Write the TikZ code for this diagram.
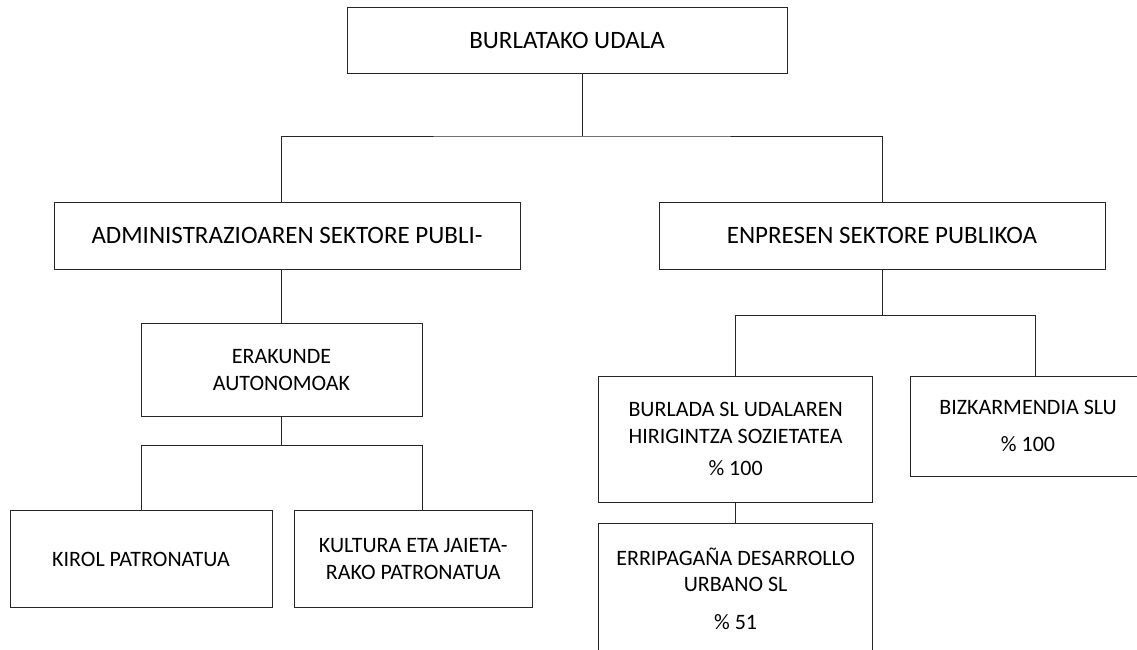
\documentclass[tikz,border=0pt]{standalone}
\usepackage{fontspec}
\setmainfont{Carlito}
\tikzset{
  boite/.style={draw=black!85, line width=1pt, inner sep=0pt, align=center},
  grand/.style={font=\fontsize{25}{30}\selectfont},
  petit/.style={font=\fontsize{22}{26.5}\selectfont},
  lien/.style={draw=black!85, line width=1pt}
}
\begin{document}
\begin{tikzpicture}[x=1pt,y=-1pt]
    \useasboundingbox (0,0) rectangle (1137,649);
    \clip (0,0) rectangle (1137,649);
    % boites
    \node[boite,grand,minimum width=440,minimum height=66] (udala) at (567,40) {BURLATAKO UDALA};
    \node[boite,grand,minimum width=466,minimum height=67] (admin) at (287,235.5) {ADMINISTRAZIOAREN SEKTORE PUBLI-};
    \node[boite,grand,minimum width=446,minimum height=67] (enpresen) at (882,235.5) {ENPRESEN SEKTORE PUBLIKOA};
    \node[boite,petit,minimum width=281,minimum height=93] (erakunde) at (281.5,370) {ERAKUNDE\\AUTONOMOAK};
    \node[boite,petit,minimum width=262,minimum height=97] (kirol) at (141,559) {KIROL PATRONATUA};
    \node[boite,petit,minimum width=238,minimum height=97] (kultura) at (413.3,559) {KULTURA ETA JAIETA-\\RAKO PATRONATUA};
    \node[boite,petit,minimum width=274,minimum height=126] (burlada) at (735.6,439) {BURLADA SL UDALAREN\\HIRIGINTZA SOZIETATEA\\[6pt]\% 100};
    \node[boite,petit,minimum width=235,minimum height=100] (bizkar) at (1028,426) {BIZKARMENDIA SLU\\[11pt]\% 100};
    \node[boite,petit,minimum width=274,minimum height=131] (erripa) at (735.6,588.5) {ERRIPAGAÑA DESARROLLO\\URBANO SL\\[11pt]\% 51};
    % liens
    \coordinate (bus1) at (582,136);
    \coordinate (bus2r) at (422,445);
    \coordinate (bus3r) at (1035,315);
    \draw[lien] (udala.south -| bus1) -- (bus1);
    \draw[lien] (admin.north -| erakunde.north) |- (bus1) -| (enpresen.north);
    \draw[lien] (admin.south -| erakunde.north) -- (erakunde.north);
    \draw[lien] (erakunde.south) -- (erakunde.south |- bus2r);
    \draw[lien] (kirol.north) |- (bus2r) -- (kultura.north -| bus2r);
    \draw[lien] (enpresen.south) -- (enpresen.south |- bus3r);
    \draw[lien] (burlada.north) |- (bus3r) -- (bizkar.north -| bus3r);
    \draw[lien] (burlada.south) -- (erripa.north);
\end{tikzpicture}
\end{document}
